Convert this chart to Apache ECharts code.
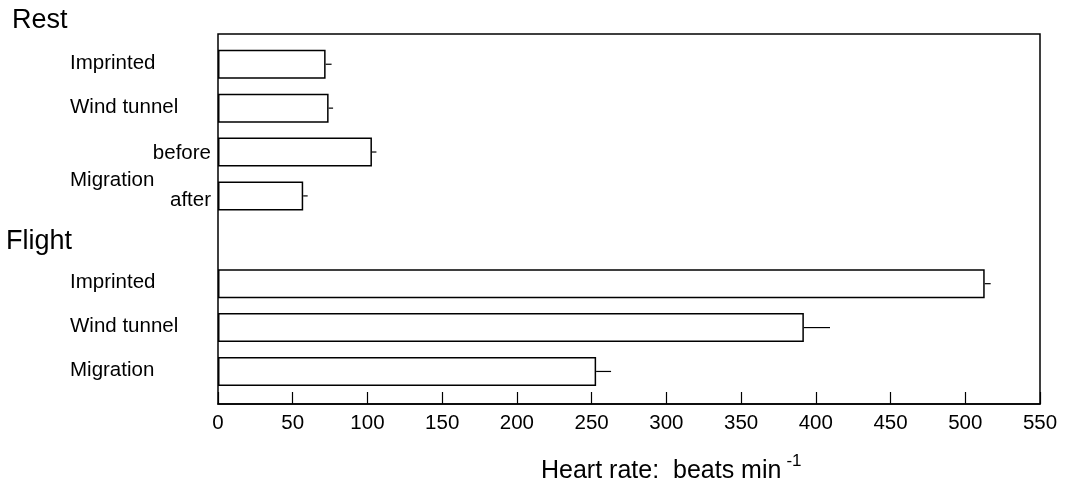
<!DOCTYPE html>
<html>
<head>
<meta charset="utf-8">
<script src="https://cdn.jsdelivr.net/npm/echarts@6/dist/echarts.min.js"></script>
<style>
html,body{margin:0;padding:0;background:#fff;}
#chart{width:1074px;height:483px;}
</style>
</head>
<body>
<div id="chart"></div>
<script>
// ---- data ----
var categories = ['Imprinted', 'Wind tunnel', 'before', 'after', '', 'Imprinted', 'Wind tunnel', 'Migration'];
var heartRate = [72, 74, 103, 57, null, 513, 392, 253];
var heartRateErr = [4, 3, 3, 3, null, 4, 17.5, 10];
var xTicks = [0, 50, 100, 150, 200, 250, 300, 350, 400, 450, 500, 550];
var groupLabels = ['Rest', 'Flight'];
var xTitle = 'Heart rate:  beats min';
var xTitleSup = '-1';

var FONT = '"Liberation Sans", Arial, Helvetica, sans-serif';
var chart = echarts.init(document.getElementById('chart'), null, {renderer: 'canvas'});

var errData = [];
for (var i = 0; i < categories.length; i++) {
  if (heartRate[i] != null) errData.push([heartRate[i], i, heartRateErr[i]]);
}

var option = {
  backgroundColor: '#fff',
  animation: false,
  grid: [
    {left: 218, right: 34, top: 34, bottom: 79, show: true, borderColor: '#000', borderWidth: 1.5, backgroundColor: 'transparent'},
    {left: 218, right: 34, top: 42.3, bottom: 89.6}
  ],
  xAxis: [
    {
      gridIndex: 0, type: 'value', min: xTicks[0], max: xTicks[xTicks.length - 1], interval: 50,
      axisLine: {show: true, lineStyle: {color: '#000', width: 1.5}},
      axisTick: {show: true, inside: true, length: 12, lineStyle: {color: '#000', width: 1.2}},
      axisLabel: {color: '#000', fontSize: 20.5, fontFamily: FONT, margin: 9},
      splitLine: {show: false}
    },
    {gridIndex: 1, type: 'value', min: xTicks[0], max: xTicks[xTicks.length - 1], show: false, splitLine: {show: false}}
  ],
  yAxis: [
    {gridIndex: 0, type: 'value', show: false, splitLine: {show: false}},
    {gridIndex: 1, type: 'category', data: categories, inverse: true, show: false}
  ],
  series: [
    {
      type: 'bar', xAxisIndex: 1, yAxisIndex: 1, data: heartRate, barWidth: 29,
      itemStyle: {color: '#fff', borderColor: '#000', borderWidth: 1.5}
    },
    {
      type: 'custom', xAxisIndex: 1, yAxisIndex: 1, data: errData,
      encode: {x: 0, y: 1},
      renderItem: function (params, api) {
        var v = api.value(0), idx = api.value(1), e = api.value(2);
        var p0 = api.coord([v, idx]);
        var p1 = api.coord([v + e, idx]);
        return {type: 'line', shape: {x1: p0[0], y1: p0[1], x2: p1[0], y2: p1[1]}, style: {stroke: '#000', lineWidth: 1.2}};
      }
    }
  ]
};
chart.setOption(option);

// ---- text labels positioned from the category axis ----
var graphics = [];
function yOf(i) { return chart.convertToPixel({yAxisIndex: 1}, i); }
var labelFont = '20.5px ' + FONT;
for (var j = 0; j < categories.length; j++) {
  var name = categories[j];
  if (!name) continue;
  var y = yOf(j);
  if (name === 'before' || name === 'after') {
    graphics.push({type: 'text', x: 211, y: y + (name === 'before' ? 1 : 4), style: {text: name, font: labelFont, fill: '#000', textAlign: 'right', textVerticalAlign: 'middle'}});
  } else {
    graphics.push({type: 'text', x: 70, y: y - 1, style: {text: name, font: labelFont, fill: '#000', textAlign: 'left', textVerticalAlign: 'middle'}});
  }
}
// Migration (rest) between before and after
graphics.push({type: 'text', x: 70, y: (yOf(2) + yOf(3)) / 2 + 6, style: {text: 'Migration', font: labelFont, fill: '#000', textAlign: 'left', textVerticalAlign: 'middle'}});
// group headings
graphics.push({type: 'text', x: 12, y: 21, style: {text: groupLabels[0], font: '27px ' + FONT, fill: '#000', textAlign: 'left', textVerticalAlign: 'middle'}});
graphics.push({type: 'text', x: 6, y: yOf(4) + 2, style: {text: groupLabels[1], font: '27px ' + FONT, fill: '#000', textAlign: 'left', textVerticalAlign: 'middle'}});
// x-axis title with superscript
graphics.push({
  type: 'text', x: 541, y: 468,
  style: {
    text: '{a|' + xTitle + '}{s|' + xTitleSup + '}',
    rich: {
      a: {font: '25px ' + FONT, fill: '#000', verticalAlign: 'bottom'},
      s: {font: '17px ' + FONT, fill: '#000', padding: [0, 0, 14, 5], verticalAlign: 'bottom'}
    },
    textAlign: 'left', textVerticalAlign: 'middle'
  }
});
chart.setOption({graphic: graphics});
</script>
</body>
</html>
